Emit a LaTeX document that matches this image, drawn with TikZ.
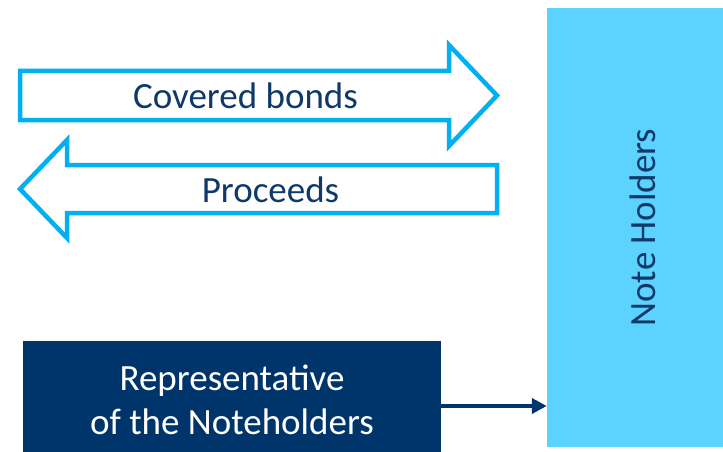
\documentclass[tikz,border=0pt]{standalone}
\usepackage{fontspec}
\setmainfont{Carlito}
\usetikzlibrary{arrows.meta,positioning}
\definecolor{navy}{HTML}{0E3968}
\definecolor{boxnavy}{HTML}{00356B}
\definecolor{cyanline}{HTML}{00B0F0}
\definecolor{skyfill}{HTML}{5CD3FF}
\tikzset{
  flowarrow/.style={draw=cyanline,line width=4.5pt,fill=white,line join=miter},
  flowlabel/.style={text=navy,font=\fontsize{37}{44}\selectfont,inner sep=0pt,anchor=base},
  holderbox/.style={fill=skyfill,text=navy,font=\fontsize{37}{44}\selectfont,
                    rotate=90,minimum width=439pt,minimum height=192pt,inner sep=0pt},
  repbox/.style={fill=boxnavy,text=white,align=center,font=\fontsize{37}{44}\selectfont,
                 minimum width=418pt,minimum height=118pt,inner sep=0pt},
  linkarr/.style={-{Triangle[length=15pt,width=15pt]},draw=boxnavy,line width=4pt}
}
\begin{document}
\begin{tikzpicture}[x=1pt,y=-1pt]
  \useasboundingbox (0,0) rectangle (723,452);
  \clip (0,0) rectangle (723,452);
  % outlined arrows
  \draw[flowarrow] (20,71) -- (449,71) -- (449,45) -- (497,95.5) -- (449,146)
    -- (449,120) -- (20,120) -- cycle;
  \draw[flowarrow] (497,165) -- (67,165) -- (67,140) -- (20,189) -- (67,238)
    -- (67,213) -- (497,213) -- cycle;
  \node[flowlabel] (bonds) at (245.5,108) {Covered bonds};
  \node[flowlabel] (proceeds) at (270.5,202) {Proceeds};
  % boxes
  \node[holderbox] (holders) at (643,227.5) {Note Holders};
  \node[repbox] (rep) at (232,400) {Representative\\of the Noteholders};
  \draw[linkarr] ([yshift=-6pt]rep.east) -- ([yshift=-6pt]rep.east -| holders.north);
\end{tikzpicture}
\end{document}
